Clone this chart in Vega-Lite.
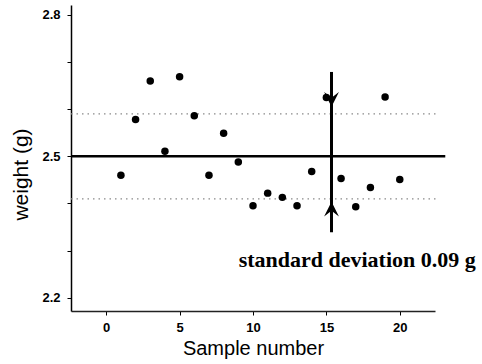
{
  "$schema": "https://vega.github.io/schema/vega-lite/v6.json",
  "width": 364,
  "height": 306,
  "autosize": "none",
  "padding": {"left": 71, "top": 5, "right": 47, "bottom": 53},
  "background": "white",
  "config": {"view": {"stroke": null}},
  "datasets": {
    "samples": [
      {"sample": 1, "weight": 2.46},
      {"sample": 2, "weight": 2.578},
      {"sample": 3, "weight": 2.66},
      {"sample": 4, "weight": 2.511},
      {"sample": 5, "weight": 2.669},
      {"sample": 6, "weight": 2.586},
      {"sample": 7, "weight": 2.46},
      {"sample": 8, "weight": 2.549},
      {"sample": 9, "weight": 2.488},
      {"sample": 10, "weight": 2.395},
      {"sample": 11, "weight": 2.422},
      {"sample": 12, "weight": 2.413},
      {"sample": 13, "weight": 2.395},
      {"sample": 14, "weight": 2.468},
      {"sample": 15, "weight": 2.625},
      {"sample": 16, "weight": 2.453},
      {"sample": 17, "weight": 2.393},
      {"sample": 18, "weight": 2.434},
      {"sample": 19, "weight": 2.626},
      {"sample": 20, "weight": 2.451}
    ]
  },
  "layer": [
    {
      "data": {"values": [{"x1": -2.4, "x2": 22.6, "y": 2.59}, {"x1": -2.4, "x2": 22.6, "y": 2.41}]},
      "mark": {"type": "rule", "color": "#8a8a8a", "strokeWidth": 1.2, "strokeDash": [1.5, 4]},
      "encoding": {
        "x": {"field": "x1", "type": "quantitative"},
        "x2": {"field": "x2"},
        "y": {"field": "y", "type": "quantitative"}
      }
    },
    {
      "data": {"name": "samples"},
      "mark": {"type": "circle", "size": 56, "color": "black", "opacity": 1},
      "encoding": {
        "x": {
          "field": "sample", "type": "quantitative",
          "scale": {"domain": [-2.4, 22.4], "nice": false, "zero": false},
          "axis": {
            "values": [0, 5, 10, 15, 20],
            "title": "Sample number",
            "grid": false,
            "domainColor": "#222", "domainWidth": 1.3,
            "tickColor": "black", "tickSize": 4, "tickWidth": 1,
            "labelFont": "Liberation Sans", "labelFontWeight": "bold", "labelFontSize": 13,
            "labelColor": "black", "labelPadding": 6,
            "titleFont": "Liberation Sans", "titleFontSize": 20, "titleFontWeight": "normal",
            "titleColor": "black", "titleY": 43, "titleBaseline": "alphabetic"
          }
        },
        "y": {
          "field": "weight", "type": "quantitative",
          "scale": {"domain": [2.172, 2.821], "nice": false, "zero": false},
          "axis": {
            "values": [2.2, 2.3, 2.4, 2.5, 2.6, 2.7, 2.8],
            "labelExpr": "datum.value == 2.2 || datum.value == 2.5 || datum.value == 2.8 ? datum.label : ''",
            "title": "weight (g)",
            "grid": false,
            "domainColor": "black", "domainWidth": 1.5,
            "tickColor": "black", "tickSize": 4, "tickWidth": 1,
            "labelFont": "Liberation Sans", "labelFontWeight": "bold", "labelFontSize": 13,
            "labelColor": "black", "labelPadding": 7,
            "titleFont": "Liberation Sans", "titleFontSize": 21, "titleFontWeight": "normal",
            "titleColor": "black", "titleX": -50, "titleY": 169,
            "titleAngle": -90, "titleAlign": "center", "titleBaseline": "middle"
          }
        }
      }
    },
    {
      "data": {"values": [{"x1": -2.4, "x2": 23.1, "y": 2.5}]},
      "mark": {"type": "rule", "color": "black", "strokeWidth": 2.5},
      "encoding": {
        "x": {"field": "x1", "type": "quantitative"},
        "x2": {"field": "x2"},
        "y": {"field": "y", "type": "quantitative"}
      }
    },
    {
      "data": {"values": [{"x": 15.35, "y1": 2.339, "y2": 2.679}]},
      "mark": {"type": "rule", "color": "black", "strokeWidth": 3},
      "encoding": {
        "x": {"field": "x", "type": "quantitative"},
        "y": {"field": "y1", "type": "quantitative"},
        "y2": {"field": "y2"}
      }
    },
    {
      "data": {"values": [{"x": 15.35, "y": 2.621}]},
      "mark": {"type": "point", "filled": true, "color": "black", "opacity": 1, "size": 220,
               "shape": "M-1,-1L0,-0.2L1,-1L0,1Z"},
      "encoding": {
        "x": {"field": "x", "type": "quantitative"},
        "y": {"field": "y", "type": "quantitative"}
      }
    },
    {
      "data": {"values": [{"x": 15.35, "y": 2.388}]},
      "mark": {"type": "point", "filled": true, "color": "black", "opacity": 1, "size": 220,
               "shape": "M-1,1L0,0.2L1,1L0,-1Z"},
      "encoding": {
        "x": {"field": "x", "type": "quantitative"},
        "y": {"field": "y", "type": "quantitative"}
      }
    },
    {
      "data": {"values": [{"x": 17.1, "y": 2.265, "label": "standard deviation 0.09 g"}]},
      "mark": {"type": "text", "font": "Liberation Serif", "fontWeight": "bold", "fontSize": 22,
               "color": "black", "align": "center", "baseline": "alphabetic"},
      "encoding": {
        "x": {"field": "x", "type": "quantitative"},
        "y": {"field": "y", "type": "quantitative"},
        "text": {"field": "label"}
      }
    }
  ]
}
